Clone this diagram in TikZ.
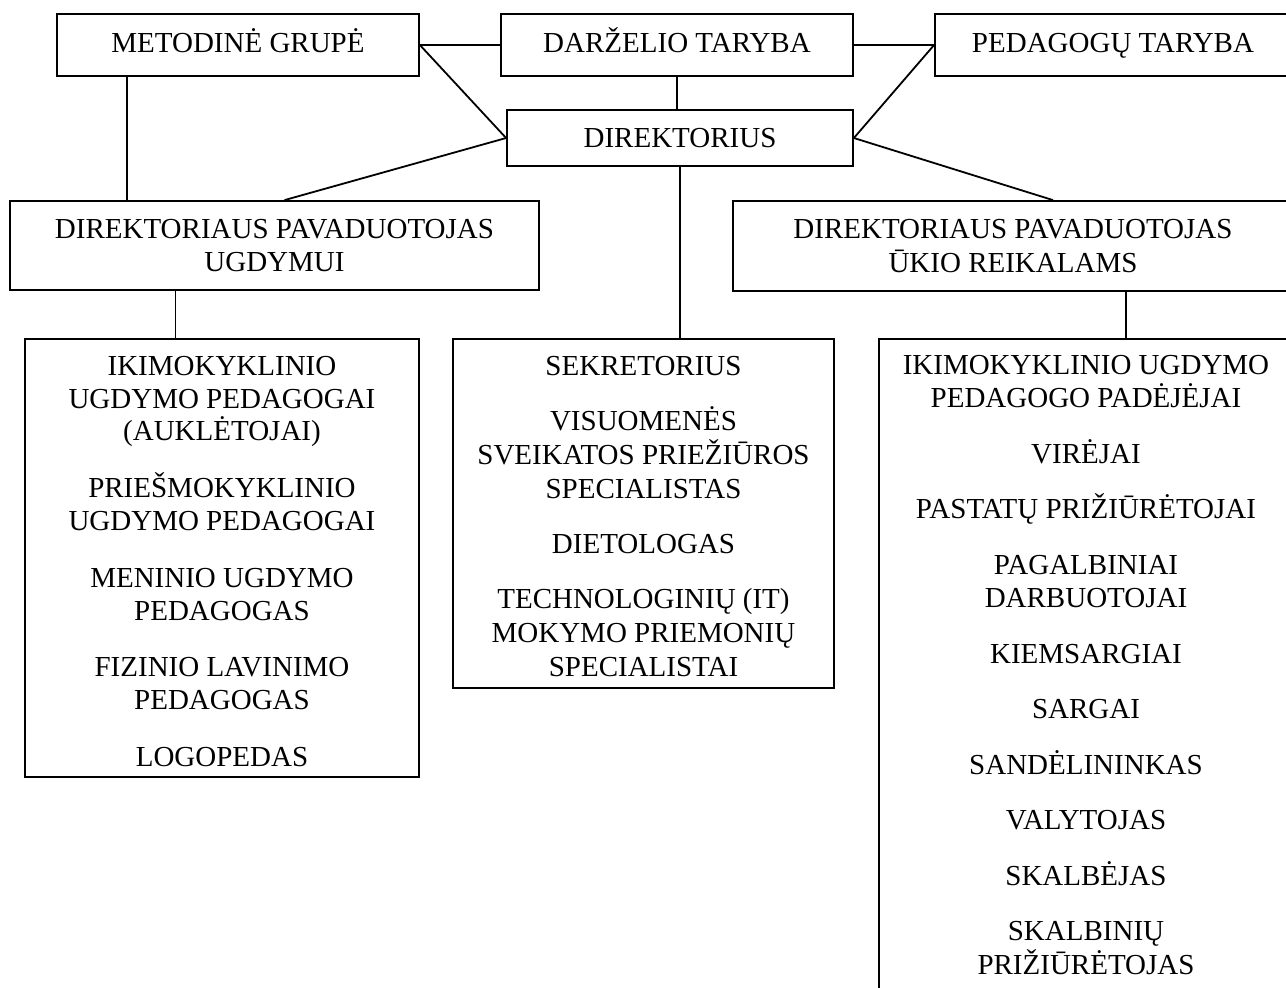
\documentclass[tikz,border=0pt]{standalone}
\usepackage{fontspec}
\setmainfont{Liberation Serif}
\usepackage{tikz}
\usetikzlibrary{positioning}

\begin{document}
\begin{tikzpicture}[
  x=0.5pt, y=-0.5pt,
  box/.style={rectangle,draw,line width=.9pt,align=center,inner sep=0pt},
  oneline/.style={box,text height=9.6pt,text depth=#1},
  link/.style={line width=.9pt},
  font=\fontsize{14.5}{16.75}\selectfont
]
\useasboundingbox (0,0) rectangle (1286,987);

% Top row
\node[oneline=2.5pt,minimum width=181pt,minimum height=31pt] at (238,45) (metod) {METODINĖ GRUPĖ};
\node[oneline=2.5pt,minimum width=176pt,minimum height=31pt] at (677,45) (darz) {DARŽELIO TARYBA};
\node[oneline=2.5pt,minimum width=178pt,minimum height=31pt] at (1113,45) (pedag) {PEDAGOGŲ TARYBA};

% Director and deputies
\node[oneline=0pt,minimum width=173pt,minimum height=28pt] at (680,138) (dir) {DIREKTORIUS};
\node[box,minimum width=264.5pt,minimum height=44.5pt] at (274.5,245.5) (pavUgd)
  {DIREKTORIAUS PAVADUOTOJAS\\UGDYMUI};
\node[box,minimum width=280pt,minimum height=45pt] at (1013,246) (pavUkio)
  {DIREKTORIAUS PAVADUOTOJAS\\ŪKIO REIKALAMS};

% Staff boxes
\node[box,minimum width=197pt,minimum height=219pt,
      font=\fontsize{14.5}{16.4}\selectfont] at (222,558) (ugdStaff)
  {\rule{0pt}{13pt}IKIMOKYKLINIO\\UGDYMO PEDAGOGAI\\(AUKLĖTOJAI)\\[12pt]
   PRIEŠMOKYKLINIO\\UGDYMO PEDAGOGAI\\[12pt]
   MENINIO UGDYMO\\PEDAGOGAS\\[12pt]
   FIZINIO LAVINIMO\\PEDAGOGAS\\[12pt]
   LOGOPEDAS};
\node[box,minimum width=190.5pt,minimum height=174.5pt,
      font=\fontsize{14.5}{17}\selectfont] at (643.5,513.5) (dirStaff)
  {\rule{0pt}{13pt}SEKRETORIUS\\[10.5pt]
   VISUOMENĖS\\SVEIKATOS PRIEŽIŪROS\\SPECIALISTAS\\[10.5pt]
   DIETOLOGAS\\[10.5pt]
   TECHNOLOGINIŲ (IT)\\MOKYMO PRIEMONIŲ\\SPECIALISTAI};
\node[box,minimum width=207pt,minimum height=326pt] at (1086,665) (ukioStaff)
  {IKIMOKYKLINIO UGDYMO\\PEDAGOGO PADĖJĖJAI\\[11pt]
   VIRĖJAI\\[11pt]
   PASTATŲ PRIŽIŪRĖTOJAI\\[11pt]
   PAGALBINIAI\\DARBUOTOJAI\\[11pt]
   KIEMSARGIAI\\[11pt]
   SARGAI\\[11pt]
   SANDĖLININKAS\\[11pt]
   VALYTOJAS\\[11pt]
   SKALBĖJAS\\[11pt]
   SKALBINIŲ\\PRIŽIŪRĖTOJAS};

% Connections
\draw[link] (metod.east) -- (metod.east -| darz.west);
\draw[link] (darz.east) -- (darz.east -| pedag.west);
\draw[link] (darz.south) -- (darz.south |- dir.north);
\draw[link] (metod.east) -- (dir.west);
\draw[link] (pedag.west) -- (dir.east);
\draw[link] (dir.west) -- ([xshift=5pt]pavUgd.north);
\draw[link] (dir.east) -- ([xshift=20pt]pavUkio.north);
\draw[link] ([xshift=-55.5pt]metod.south) -- ([xshift=-55.5pt]metod.south |- pavUgd.north);
\draw[link] ([xshift=-49.5pt]pavUgd.south) -- ([xshift=-49.5pt]pavUgd.south |- ugdStaff.north);
\draw[link] (dir.south) -- (dir.south |- dirStaff.north);
\draw[link] ([xshift=56.5pt]pavUkio.south) -- ([xshift=56.5pt]pavUkio.south |- ukioStaff.north);

\end{tikzpicture}
\end{document}
